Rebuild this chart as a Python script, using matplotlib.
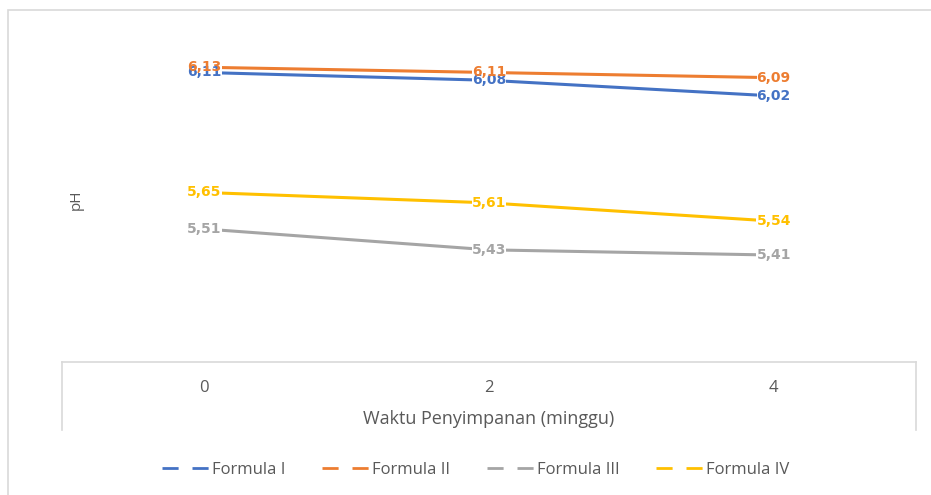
import matplotlib
matplotlib.use("Agg")
import matplotlib.pyplot as plt
from matplotlib.lines import Line2D
from matplotlib.patches import Rectangle

# data
weeks = ["0", "2", "4"]
formula_1 = [6.11, 6.08, 6.02]
formula_2 = [6.13, 6.11, 6.09]
formula_3 = [5.51, 5.43, 5.41]
formula_4 = [5.65, 5.61, 5.54]
series_names = ["Formula I", "Formula II", "Formula III", "Formula IV"]
colors = ["#4472C4", "#ED7D31", "#A5A5A5", "#FFC000"]

W, H = 931, 495
fig = plt.figure(figsize=(W / 100, H / 100), dpi=100)

def fx(px):
    return px / W

def fy(py):
    return 1 - py / H

# outer chart frame
fig.add_artist(Rectangle((fx(8), fy(600)), fx(1000), fy(10) - fy(600),
                         transform=fig.transFigure, fill=False,
                         edgecolor="#d9d9d9", linewidth=1.2))

ax = fig.add_axes([fx(62), fy(362), fx(916) - fx(62), fy(49) - fy(362)])
x = list(range(len(weeks)))
all_series = [formula_1, formula_2, formula_3, formula_4]

for vals, name, c in zip(all_series, series_names, colors):
    ax.plot(x, vals, color=c, linewidth=2.2, solid_capstyle="round", zorder=2)

# white boxes hide the line under each label, then the coloured text on top
for i, (vals, c) in enumerate(zip(all_series, colors)):
    for xi, v in zip(x, vals):
        txt = f"{v:.2f}".replace(".", ",")
        ax.text(xi, v, txt, color="white", ha="center", va="center",
                fontsize=10, fontweight="bold", family="DejaVu Sans", zorder=3,
                bbox=dict(boxstyle="square,pad=0.0", facecolor="white",
                          edgecolor="none"))
        ax.text(xi, v, txt, color=c, ha="center", va="center",
                fontsize=10, fontweight="bold", family="DejaVu Sans",
                zorder=4 + i)

ax.set_xlim(-0.5, 2.5)
ax.set_ylim(5.0, 6.2)
ax.set_yticks([])
ax.set_xticks(x)
ax.set_xticklabels(weeks, fontsize=12, color="#595959", family="Open Sans")
ax.tick_params(axis="x", length=0, pad=13)
for s in ax.spines.values():
    s.set_visible(False)
ax.set_xlabel("Waktu Penyimpanan (minggu)", fontsize=13, color="#595959",
              family="Open Sans", labelpad=10)

# x-axis box
box = dict(color="#d9d9d9", linewidth=1.2, transform=fig.transFigure)
fig.add_artist(Line2D([fx(62), fx(916)], [fy(362), fy(362)], **box))
fig.add_artist(Line2D([fx(62), fx(62)], [fy(362), fy(430)], **box))
fig.add_artist(Line2D([fx(916), fx(916)], [fy(362), fy(430)], **box))

fig.text(fx(76), fy(200), "pH", rotation=90, ha="center", va="center",
         fontsize=11, color="#595959", family="Open Sans")

handles = [Line2D([], [], color=c, linewidth=2, dashes=(5.8, 5.0))
           for c in colors]
fig.legend(handles, series_names, loc="center", bbox_to_anchor=(fx(476), fy(470)),
           ncol=4, frameon=False, handlelength=2.8, handletextpad=0.2,
           columnspacing=2.2, prop=dict(family="Open Sans", size=12),
           labelcolor="#595959")

fig.savefig("out.png", dpi=100)
